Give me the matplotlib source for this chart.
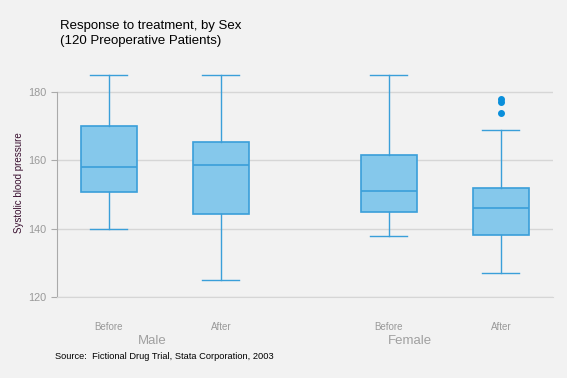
import numpy as np
import matplotlib.pyplot as plt

plt.rcParams['font.family'] = ['Liberation Sans', 'DejaVu Sans']

# box statistics
groups = ["Male", "Male", "Female", "Female"]
phases = ["Before", "After", "Before", "After"]
whislo = [140, 125, 138, 127]
q1 = [150.7, 144.3, 144.8, 138.2]
med = [158, 158.6, 151.1, 146.1]
q3 = [170, 165.5, 161.5, 152]
whishi = [185, 185, 185, 169]
fliers = [[], [], [], [174, 177, 178]]

positions = [1, 2, 3.5, 4.5]

bg = "#F2F2F2"
fill = "#85C8EB"
edge = "#3A9FD9"

fig = plt.figure(figsize=(5.67, 3.78), dpi=100, facecolor=bg)
ax = fig.add_axes([0.1005, 0.2143, 0.8745, 0.605])
ax.set_facecolor(bg)

stats = []
for i in range(len(groups)):
    stats.append(dict(whislo=whislo[i], q1=q1[i], med=med[i], q3=q3[i],
                      whishi=whishi[i], fliers=fliers[i]))

ax.bxp(stats, positions=positions, widths=0.5, patch_artist=True,
       boxprops=dict(facecolor=fill, edgecolor=edge, linewidth=1.2),
       medianprops=dict(color=edge, linewidth=1.2),
       whiskerprops=dict(color=edge, linewidth=1),
       capprops=dict(color=edge, linewidth=1),
       capwidths=0.33,
       flierprops=dict(marker="o", markerfacecolor="#0A8FDB",
                       markeredgecolor="#0A8FDB", markersize=4))

ax.set_xlim(0.536, 4.964)
ax.set_ylim(120, 187)
ax.set_yticks([120, 140, 160, 180])
ax.grid(axis="y", color="#D6D6D6", linewidth=1)
ax.set_axisbelow(True)

for s in ["top", "right"]:
    ax.spines[s].set_visible(False)
ax.spines["left"].set_color("#AAAAAA")
ax.spines["left"].set_bounds(120, 180)
ax.spines["bottom"].set_color("#D6D6D6")

ax.tick_params(axis="y", colors="#AAAAAA", labelsize=7.8, length=4,
               labelcolor="#999999")
ax.set_xticks(positions)
ax.set_xticklabels(phases)
ax.tick_params(axis="x", length=0, labelsize=7, labelcolor="#999999", pad=18)

ax.set_ylabel("Systolic blood pressure", fontsize=7, color="#3A1030", labelpad=3)

fig.text(0.268, 0.098, "Male", fontsize=9.5, color="#A0A0A0", ha="center", va="center")
fig.text(0.723, 0.098, "Female", fontsize=9.5, color="#A0A0A0", ha="center", va="center")

fig.text(0.106, 0.947, "Response to treatment, by Sex\n(120 Preoperative Patients)",
         fontsize=9.5, color="black", ha="left", va="top", linespacing=1.3)
fig.text(0.097, 0.058, "Source:  Fictional Drug Trial, Stata Corporation, 2003",
         fontsize=6.7, color="black", ha="left", va="center")

fig.savefig("out.png", dpi=100, facecolor=bg)
